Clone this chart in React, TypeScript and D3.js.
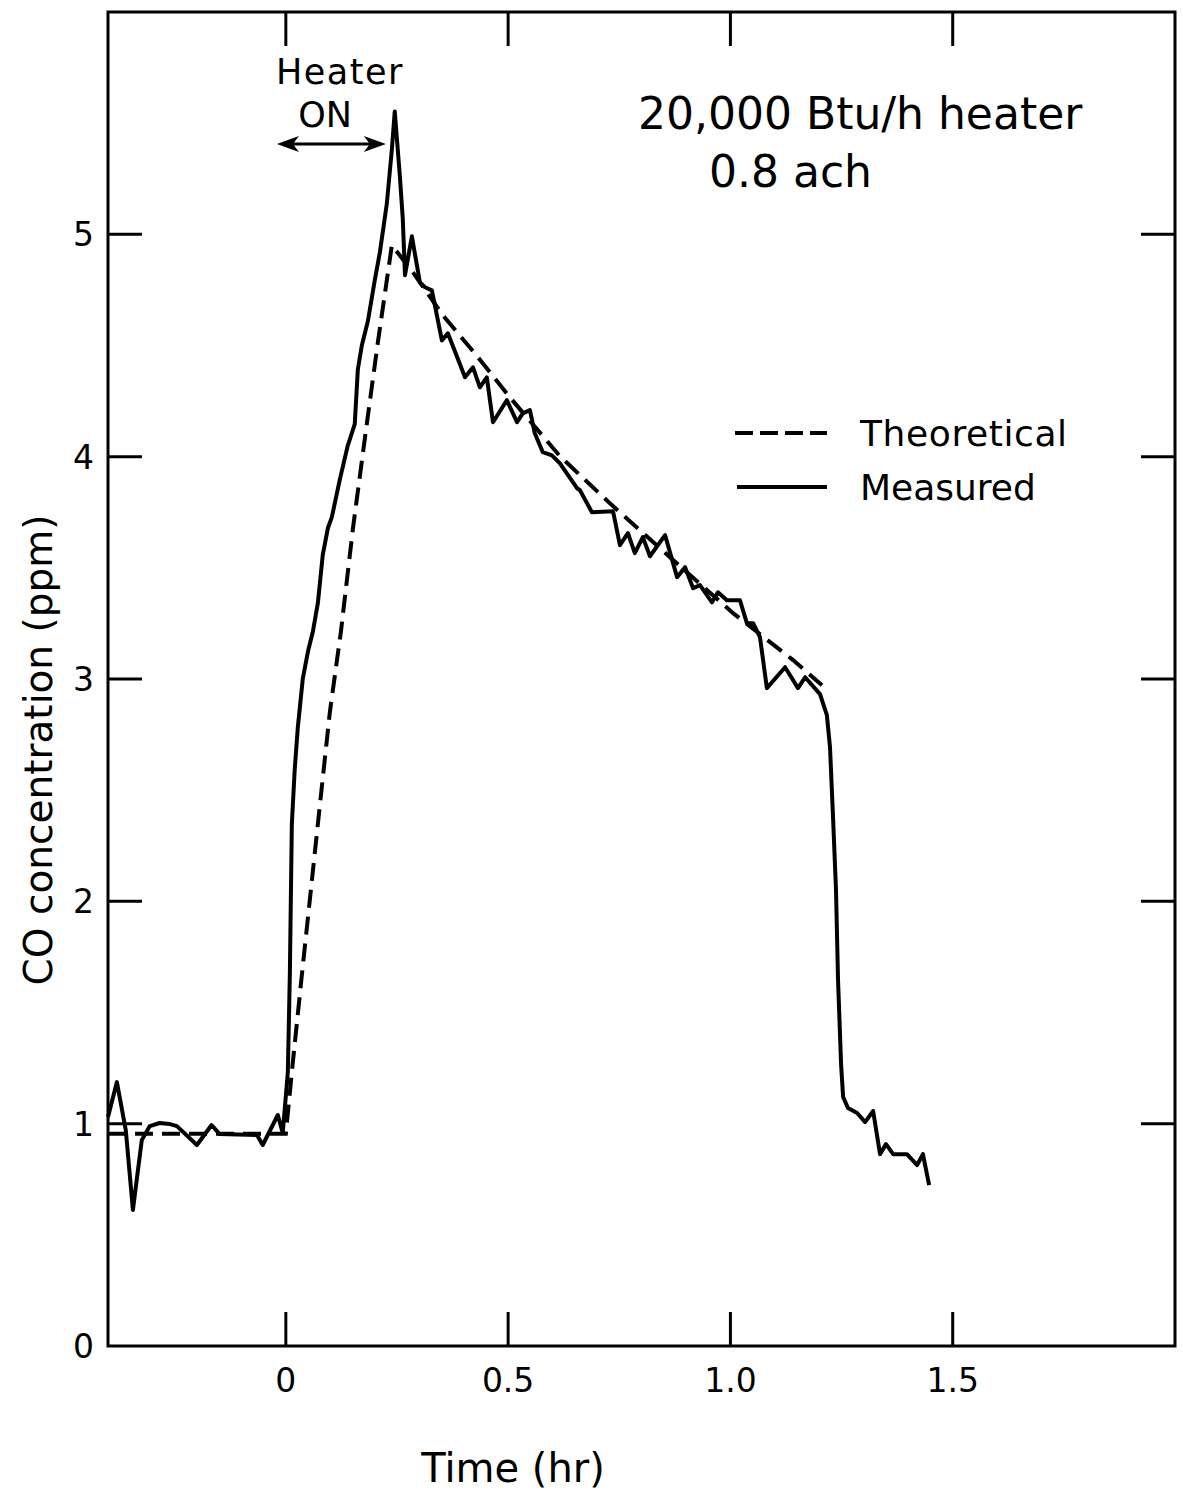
import React from 'react';
import * as d3 from 'd3';

// ---- Data (time in hr, CO in ppm) ----
const measuredTime = [
  -0.4, -0.38, -0.36, -0.344, -0.324, -0.306, -0.284, -0.261, -0.245, -0.2, -0.167, -0.149,
  -0.065, -0.052, -0.018, -0.007, 0.0045, 0.009, 0.0135, 0.02, 0.027, 0.038, 0.0495, 0.061,
  0.072, 0.083, 0.0945, 0.1035, 0.1215, 0.1395, 0.155, 0.162, 0.171, 0.1845, 0.2, 0.2115,
  0.227, 0.2385, 0.245, 0.2565, 0.263, 0.268, 0.2835, 0.3015, 0.313, 0.3285, 0.351, 0.3645,
  0.403, 0.421, 0.4365, 0.452, 0.466, 0.497, 0.52, 0.533, 0.549, 0.56, 0.578, 0.5985,
  0.6165, 0.655, 0.6615, 0.6885, 0.736, 0.7515, 0.7695, 0.785, 0.803, 0.819, 0.853, 0.88,
  0.898, 0.916, 0.9315, 0.9585, 0.972, 0.992, 1.0215, 1.037, 1.051, 1.0665, 1.082, 1.123,
  1.152, 1.168, 1.2015, 1.217, 1.224, 1.231, 1.2375, 1.242, 1.249, 1.2535, 1.2645, 1.285,
  1.303, 1.321, 1.3365, 1.35, 1.366, 1.397, 1.42, 1.433, 1.447,
];
const measuredCO = [
  1.03, 1.187, 0.971, 0.612, 0.926, 0.989, 1.003, 0.998, 0.989, 0.904, 0.994, 0.953,
  0.949, 0.904, 1.039, 0.958, 1.232, 1.668, 2.347, 2.594, 2.783, 2.999, 3.121, 3.215,
  3.341, 3.557, 3.678, 3.728, 3.898, 4.051, 4.146, 4.393, 4.501, 4.609, 4.793, 4.919,
  5.135, 5.382, 5.553, 5.261, 5.072, 4.816, 4.991, 4.784, 4.762, 4.748, 4.523, 4.555,
  4.357, 4.402, 4.312, 4.357, 4.155, 4.254, 4.155, 4.195, 4.209, 4.105, 4.02, 4.006,
  3.97, 3.858, 3.849, 3.75, 3.754, 3.602, 3.656, 3.566, 3.638, 3.552, 3.647, 3.458,
  3.503, 3.408, 3.422, 3.345, 3.39, 3.354, 3.354, 3.251, 3.251, 3.188, 2.959, 3.053,
  2.959, 3.008, 2.932, 2.837, 2.693, 2.37, 2.05, 1.65, 1.263, 1.12, 1.07, 1.048,
  1.007, 1.057, 0.863, 0.908, 0.863, 0.863, 0.814, 0.863, 0.724,
];
const theoreticalTime = [
  -0.4, 0, 0.0135, 0.036, 0.072, 0.099, 0.124, 0.151, 0.182, 0.207, 0.2385,
  0.286, 0.353, 0.425, 0.504, 0.6165, 0.729, 0.864, 1.006, 1.141, 1.206,
];
const theoreticalCO = [
  0.955, 0.955, 1.232, 1.668, 2.347, 2.851, 3.215, 3.678, 4.146, 4.514, 4.951,
  4.829, 4.636, 4.465, 4.267, 4.002, 3.79, 3.548, 3.296, 3.085, 2.972,
];
const xTickValues = [0, 0.5, 1.0, 1.5];
const xTickLabels = ['0', '0.5', '1.0', '1.5'];
const yTickValues = [0, 1, 2, 3, 4, 5];
const yTickLabels = ['0', '1', '2', '3', '4', '5'];
const heaterOn = [-0.02, 0.225];

const FONT = '"DejaVu Sans", "Liberation Sans", sans-serif';

export default function App() {
  const x = d3.scaleLinear().domain([-0.4, 2.0]).range([108, 1175]);
  const y = d3.scaleLinear().domain([0, 6]).range([1346, 12]);
  const line = d3
    .line<[number, number]>()
    .x((d) => x(d[0]))
    .y((d) => y(d[1]));

  const measured: [number, number][] = measuredTime.map((t, i) => [t, measuredCO[i]]);
  const theoretical: [number, number][] = theoreticalTime.map((t, i) => [t, theoreticalCO[i]]);

  const [x0, x1] = x.range();
  const [yb, yt] = y.range();
  const tickLen = 34;
  const ay = 144;
  const ax0 = x(heaterOn[0]);
  const ax1 = x(heaterOn[1]);

  return (
    <svg
      width={1183}
      height={1497}
      style={{ position: 'absolute', left: 0, top: 0, background: '#fff' }}
      fontFamily={FONT}
    >
      <rect x={0} y={0} width={1183} height={1497} fill="#fff" />
      {/* frame */}
      <rect x={x0} y={yt} width={x1 - x0} height={yb - yt} fill="none" stroke="#000" strokeWidth={3} />
      {/* x ticks bottom & top */}
      {xTickValues.map((v, i) => (
        <g key={'xt' + i}>
          <line x1={x(v)} x2={x(v)} y1={yb} y2={yb - tickLen} stroke="#000" strokeWidth={3} />
          <line x1={x(v)} x2={x(v)} y1={yt} y2={yt + tickLen} stroke="#000" strokeWidth={3} />
          <text x={x(v)} y={yb + 46} fontSize={33} textAnchor="middle" fill="#000">
            {xTickLabels[i]}
          </text>
        </g>
      ))}
      {/* y ticks left & right */}
      {yTickValues.map((v, i) => (
        <g key={'yt' + i}>
          {v > 0 && (
            <>
              <line x1={x0} x2={x0 + tickLen} y1={y(v)} y2={y(v)} stroke="#000" strokeWidth={3} />
              <line x1={x1} x2={x1 - tickLen} y1={y(v)} y2={y(v)} stroke="#000" strokeWidth={3} />
            </>
          )}
          <text x={x0 - 14} y={y(v)} dy="0.36em" fontSize={33} textAnchor="end" fill="#000">
            {yTickLabels[i]}
          </text>
        </g>
      ))}
      {/* axis titles */}
      <text x={513} y={1482} fontSize={40} textAnchor="middle" fill="#000">
        Time (hr)
      </text>
      <text transform="translate(52,750) rotate(-90)" fontSize={39} textAnchor="middle" fill="#000">
        CO concentration (ppm)
      </text>
      {/* curves */}
      <path d={line(theoretical) || ''} fill="none" stroke="#000" strokeWidth={4} strokeDasharray="18,9" />
      <path d={line(measured) || ''} fill="none" stroke="#000" strokeWidth={4} strokeLinejoin="round" />
      {/* heater annotation */}
      <text x={340} y={84} fontSize={35} letterSpacing={1.5} textAnchor="middle" fill="#000">
        Heater
      </text>
      <text x={325} y={127} fontSize={35} textAnchor="middle" fill="#000">
        ON
      </text>
      <line x1={ax0 + 10} x2={ax1 - 10} y1={ay} y2={ay} stroke="#000" strokeWidth={3} />
      <path d={`M${ax0},${ay} L${ax0 + 22},${ay - 8} L${ax0 + 16},${ay} L${ax0 + 22},${ay + 8} Z`} fill="#000" />
      <path d={`M${ax1},${ay} L${ax1 - 22},${ay - 8} L${ax1 - 16},${ay} L${ax1 - 22},${ay + 8} Z`} fill="#000" />
      {/* condition text */}
      <text x={638} y={129} fontSize={44} fill="#000">
        20,000 Btu/h heater
      </text>
      <text x={709} y={187} fontSize={44} fill="#000">
        0.8 ach
      </text>
      {/* legend */}
      <line x1={735} x2={827} y1={433} y2={433} stroke="#000" strokeWidth={4} strokeDasharray="18,7" />
      <text x={860} y={446} fontSize={36} letterSpacing={0.6} fill="#000">
        Theoretical
      </text>
      <line x1={737} x2={827} y1={487} y2={487} stroke="#000" strokeWidth={4} />
      <text x={860} y={500} fontSize={36} fill="#000">
        Measured
      </text>
    </svg>
  );
}
